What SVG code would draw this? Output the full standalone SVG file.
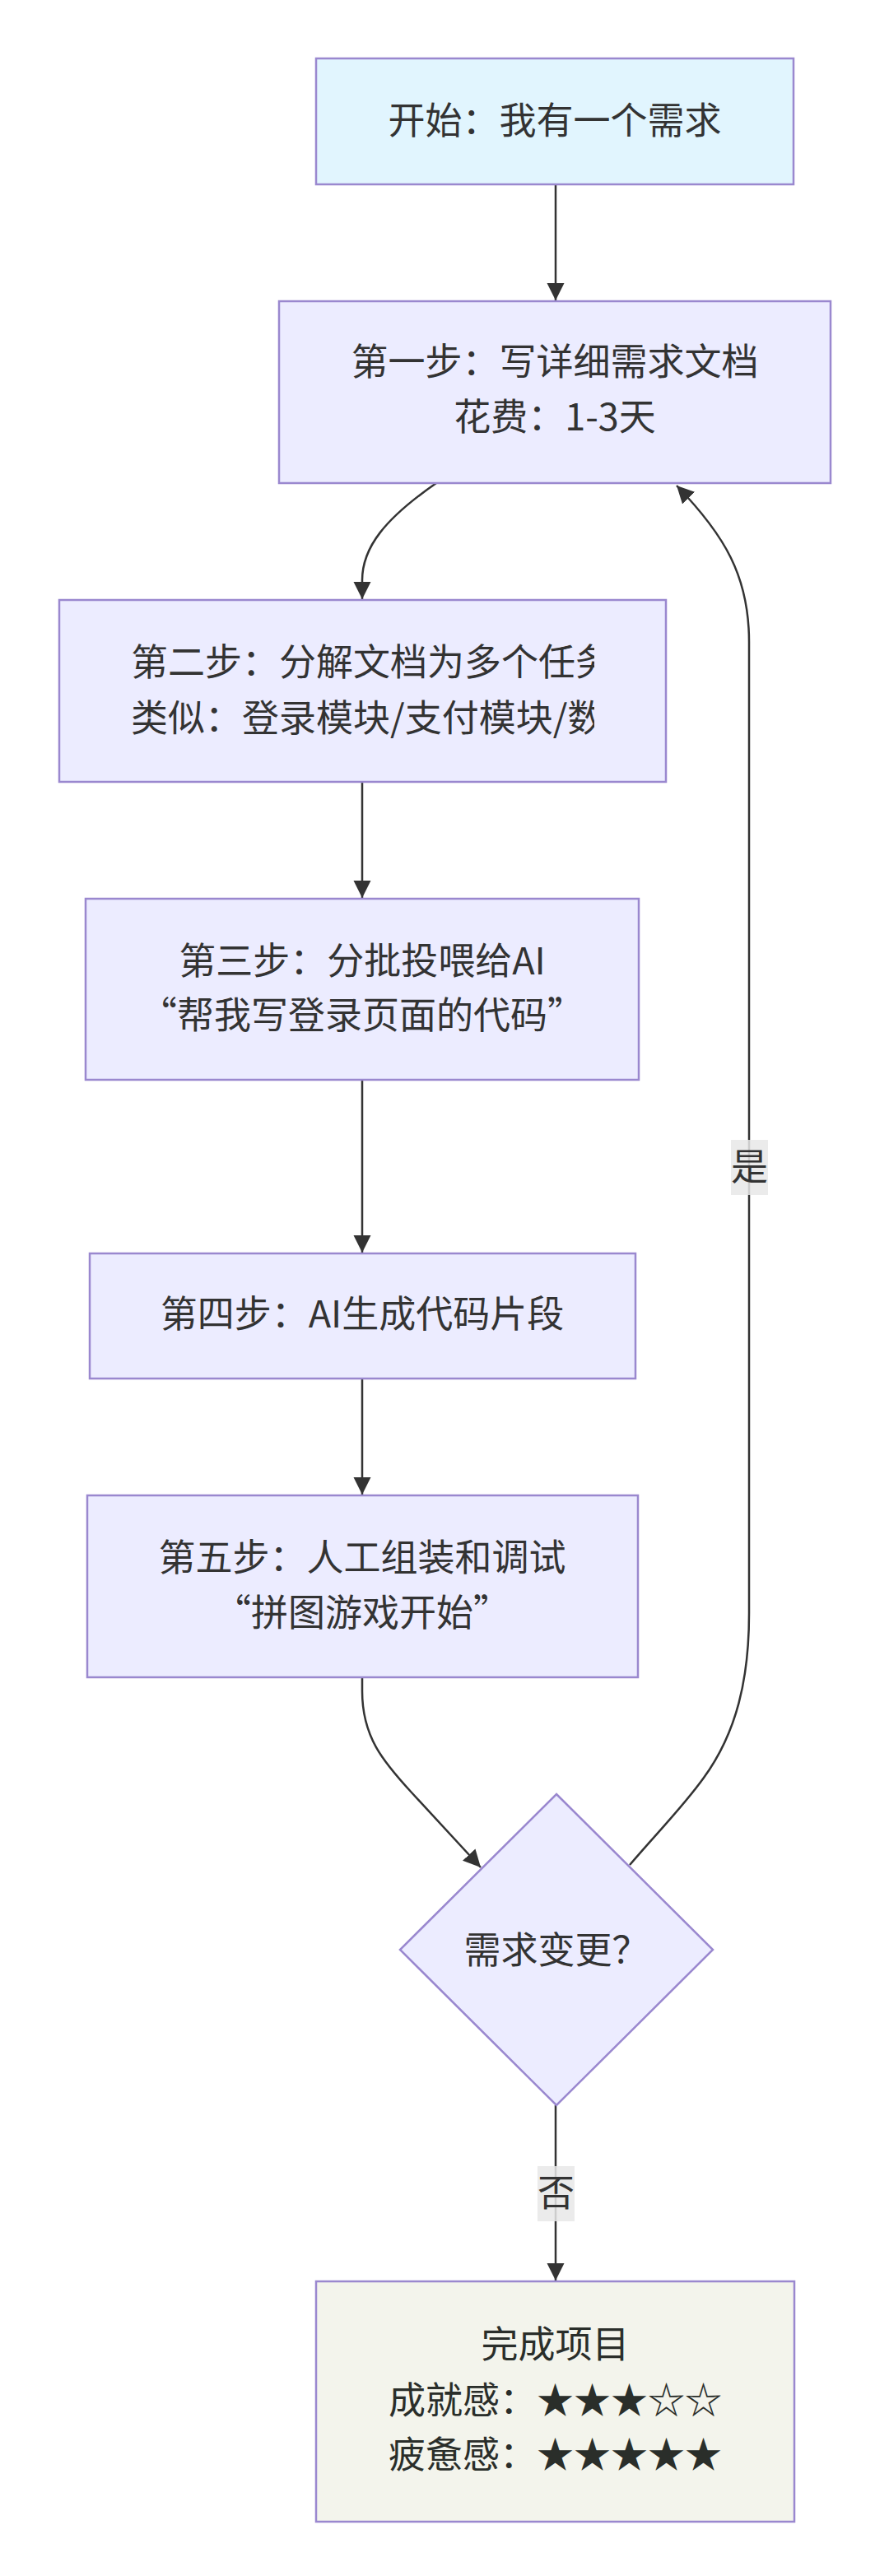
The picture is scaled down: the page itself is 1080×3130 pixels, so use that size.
<svg xmlns="http://www.w3.org/2000/svg" width="1080" height="3130" viewBox="0 0 1080 3130">
<style>
  .node { stroke: #9A88CF; stroke-width: 2.5; }
  .proc { fill: #ECECFF; }
  .start { fill: #E1F5FE; }
  .end { fill: #F3F4EC; }
  .t { font-family: "Noto Sans CJK SC", "Noto Sans", sans-serif; font-size: 45px; fill: #333333; text-anchor: middle; }
  .tl { text-anchor: start; }
  .edge { fill: none; stroke: #333333; stroke-width: 2.5; }
  .lblbg { fill: #E8E8E8; fill-opacity: 0.85; }
  .dark { fill: #2A2E2A; }
</style>
<defs>
  <marker id="arrow" viewBox="0 0 10 10" refX="10" refY="5" markerWidth="21" markerHeight="22" markerUnits="userSpaceOnUse" orient="auto">
    <path d="M0,0 L10,5 L0,10 z" fill="#333333"/>
  </marker>
  <clipPath id="clip2">
    <rect x="158" y="740" width="564" height="200"/>
  </clipPath>
</defs>
<rect x="0" y="0" width="1080" height="3130" fill="#FFFFFF"/>

<g id="edges">
  <path class="edge" d="M675,224 L675,365" marker-end="url(#arrow)"/>
  <path class="edge" d="M530,587 C468,630 440,665 440,705 L440,728" marker-end="url(#arrow)"/>
  <path class="edge" d="M440,950 L440,1091" marker-end="url(#arrow)"/>
  <path class="edge" d="M440,1312 L440,1522" marker-end="url(#arrow)"/>
  <path class="edge" d="M440,1675 L440,1816" marker-end="url(#arrow)"/>
  <path class="edge" d="M440,2038 L440,2055 C440,2110 465,2140 500,2178 L584,2269" marker-end="url(#arrow)"/>
  <path class="edge" d="M765,2266 C800,2225 830,2195 855,2160 C895,2105 910,2040 910,1960 L910,780 C910,700 880,650 822,590" marker-end="url(#arrow)"/>
  <path class="edge" d="M675,2558 L675,2771" marker-end="url(#arrow)"/>
  <g id="label-yes">
    <rect class="lblbg" x="888" y="1385" width="45" height="67"/>
    <text class="t" x="910.5" y="1434">是</text>
  </g>
  <g id="label-no">
    <rect class="lblbg" x="653" y="2632" width="45" height="67"/>
    <text class="t" x="675.5" y="2681">否</text>
  </g>
</g>

<g id="node-start">
  <rect class="node start" x="384" y="71" width="580" height="153"/>
  <text class="t" x="674" y="163">开始：我有一个需求</text>
</g>

<g id="node-step1">
  <rect class="node proc" x="339" y="366" width="670" height="221"/>
  <text class="t" x="674" y="456">第一步：写详细需求文档</text>
  <text class="t" x="674" y="523">花费：1-3天</text>
</g>

<g id="node-step2">
  <rect class="node proc" x="72" y="729" width="737" height="221"/>
  <g clip-path="url(#clip2)">
    <text class="t tl" x="159" y="821">第二步：分解文档为多个任务</text>
    <text class="t tl" x="159" y="889">类似：登录模块/支付模块/数</text>
  </g>
</g>

<g id="node-step3">
  <rect class="node proc" x="104" y="1092" width="672" height="220"/>
  <text class="t" x="440" y="1184">第三步：分批投喂给AI</text>
  <text class="t" x="440" y="1250">“帮我写登录页面的代码”</text>
</g>

<g id="node-step4">
  <rect class="node proc" x="109" y="1523" width="663" height="152"/>
  <text class="t" x="440" y="1613">第四步：AI生成代码片段</text>
</g>

<g id="node-step5">
  <rect class="node proc" x="106" y="1817" width="669" height="221"/>
  <text class="t" x="440" y="1909">第五步：人工组装和调试</text>
  <text class="t" x="440" y="1976">“拼图游戏开始”</text>
</g>

<g id="node-decision">
  <polygon class="node proc" points="676,2180 866,2369 676,2558 486,2369"/>
  <text class="t" x="676" y="2386">需求变更？</text>
</g>

<g id="node-end">
  <rect class="node end" x="384" y="2772" width="581" height="292"/>
  <text class="t dark" x="674.5" y="2865">完成项目</text>
  <text class="t dark" x="674.5" y="2933">成就感：★★★☆☆</text>
  <text class="t dark" x="674.5" y="2999">疲惫感：★★★★★</text>
</g>
</svg>
